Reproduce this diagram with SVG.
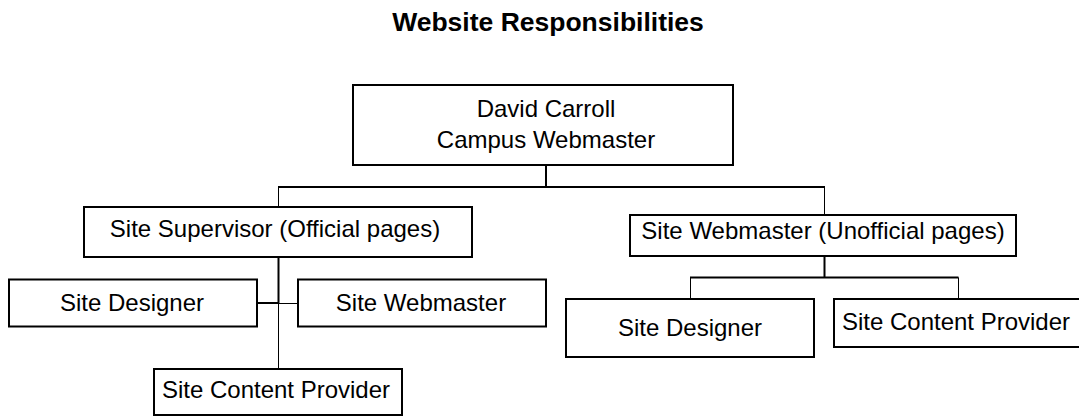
<svg xmlns="http://www.w3.org/2000/svg" width="1079" height="416" viewBox="0 0 1079 416">
<style>
.box{fill:#fff;stroke:#000;stroke-width:2}
.t{font-family:"Liberation Sans",Arial,sans-serif;font-size:24px;fill:#000;text-anchor:middle}
.title{font-family:"Liberation Sans",Arial,sans-serif;font-size:26.5px;font-weight:bold;fill:#000;text-anchor:middle}
.c2{stroke:#000;stroke-width:2;fill:none}
.c1{stroke:#000;stroke-width:1;fill:none}
</style>
<rect width="1079" height="416" fill="#fff"/>
<text class="title" x="548" y="31">Website Responsibilities</text>
<g id="connectors">
<line class="c2" x1="546" y1="165" x2="546" y2="187"/>
<line class="c2" x1="278" y1="187" x2="825" y2="187"/>
<line class="c1" x1="278.5" y1="187" x2="278.5" y2="207"/>
<line class="c2" x1="278.5" y1="257" x2="278.5" y2="303"/>
<line class="c1" x1="278.5" y1="303" x2="278.5" y2="369"/>
<line class="c2" x1="257" y1="303" x2="278.5" y2="303"/>
<line class="c1" x1="278.5" y1="303.5" x2="298" y2="303.5"/>
<line class="c1" x1="824.5" y1="187" x2="824.5" y2="215"/>
<line class="c2" x1="824.5" y1="256" x2="824.5" y2="277.5"/>
<line class="c2" x1="690" y1="277.5" x2="958.5" y2="277.5"/>
<line class="c1" x1="690.5" y1="277.5" x2="690.5" y2="299"/>
<line class="c1" x1="958.5" y1="277.5" x2="958.5" y2="299"/>
</g>
<g id="n-top">
<rect class="box" x="353" y="85" width="380" height="80"/>
<text class="t" x="546" y="117">David Carroll</text>
<text class="t" x="546" y="148">Campus Webmaster</text>
</g>
<g id="n-supervisor">
<rect class="box" x="84" y="207" width="388" height="50"/>
<text class="t" x="275" y="237">Site Supervisor (Official pages)</text>
</g>
<g id="n-designer-l">
<rect class="box" x="9" y="279.5" width="248" height="47"/>
<text class="t" x="132" y="311">Site Designer</text>
</g>
<g id="n-webmaster-l">
<rect class="box" x="298" y="279.5" width="248" height="47"/>
<text class="t" x="421" y="311">Site Webmaster</text>
</g>
<g id="n-content-l">
<rect class="box" x="154" y="369" width="248" height="46"/>
<text class="t" x="276" y="398">Site Content Provider</text>
</g>
<g id="n-webmaster-r">
<rect class="box" x="630" y="215" width="386" height="41"/>
<text class="t" x="823" y="239">Site Webmaster (Unofficial pages)</text>
</g>
<g id="n-designer-r">
<rect class="box" x="566" y="299" width="248" height="58"/>
<text class="t" x="690" y="336">Site Designer</text>
</g>
<g id="n-content-r">
<rect class="box" x="834" y="299" width="260" height="48"/>
<text class="t" x="956" y="330">Site Content Provider</text>
</g>
</svg>
